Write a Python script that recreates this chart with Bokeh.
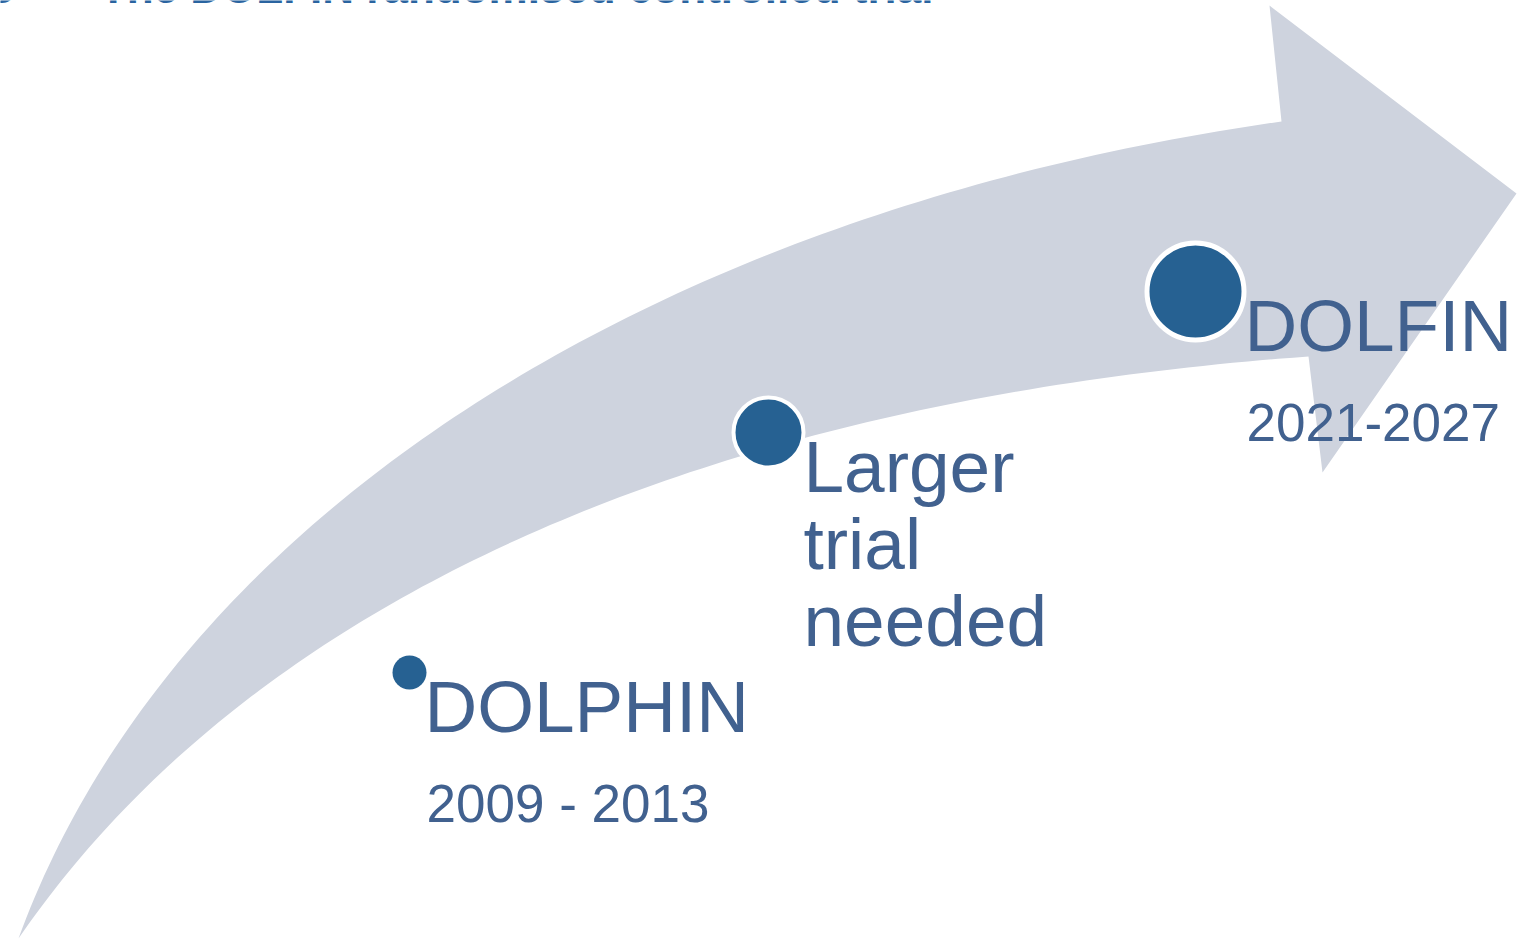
import numpy as np
from bokeh.plotting import figure
from bokeh.models import Range1d
from bokeh.core.properties import value
from bokeh.embed import file_html
from bokeh.resources import INLINE

# ---- content -------------------------------------------------------------
title_text = "Improving outcomes\u2002\u2009\u2013\u2002\u2009The DOLFIN randomised controlled trial"

milestone_names = ["DOLPHIN", "DOLFIN"]
milestone_periods = ["2009 - 2013", "2021-2027"]
middle_label_lines = ["Larger", "trial", "needed"]

# ---- geometry (screen-pixel coordinates, y downwards) ----------------------
dot_x = [409, 768, 1195]
dot_y = [672, 432, 291]
dot_r = [17, 35, 48.5]

name_x = [424, 1244]
name_base = [733, 352]
period_x = [426, 1246]
period_base = [823, 442]
mid_x = [803, 803, 803]
mid_base = [493, 570, 647]
title_x, title_base = 933, 3.5

# arrow body: cubic bezier control points of the two curved edges
upper_ctrl_x = [18, 170, 650, 1281]
upper_ctrl_y = [938, 520, 210, 121]
lower_ctrl_x = [1308, 700, 250, 18]
lower_ctrl_y = [356, 400, 600, 938]
# arrow head outline (top barb, tip, bottom barb)
head_x = [1269, 1516, 1322]
head_y = [5, 193, 472]

ARROW = "#CED3DE"
DOT = "#266192"
TEXT = "#41618F"
TITLE = "#2A64A0"

NAME_SIZE, PERIOD_SIZE, TITLE_SIZE = 73, 53, 44
BASE_SHIFT = 0.375  # renderer places text this fraction of its size below the anchor


def bezier(cx, cy, n=120):
    t = np.linspace(0, 1, n)
    b = [(1 - t) ** 3, 3 * (1 - t) ** 2 * t, 3 * (1 - t) * t ** 2, t ** 3]
    return sum(bi * c for bi, c in zip(b, cx)), sum(bi * c for bi, c in zip(b, cy))


def anchor(bases, size):
    return [b - BASE_SHIFT * size for b in bases]


ux, uy = bezier(upper_ctrl_x, upper_ctrl_y)
lx, ly = bezier(lower_ctrl_x, lower_ctrl_y)
arrow_x = list(ux) + head_x + list(lx)
arrow_y = list(uy) + head_y + list(ly)

W, H = 1521, 940
p = figure(width=W, height=H, output_backend="svg", toolbar_location=None,
           x_range=Range1d(0, W), y_range=Range1d(H, 0),
           x_axis_type=None, y_axis_type=None, min_border=0,
           background_fill_color="white", border_fill_color="white",
           outline_line_color=None)
p.grid.visible = False

p.patch(arrow_x, arrow_y, fill_color=ARROW, line_color=None)

p.circle(x=dot_x, y=dot_y, radius=dot_r, fill_color=DOT,
         line_color="white", line_width=[0, 4, 5])

font = value("Liberation Sans")
p.text(x=name_x, y=anchor(name_base, NAME_SIZE), text=milestone_names, text_font=font,
       text_font_size=f"{NAME_SIZE}px", text_color=TEXT, text_baseline="alphabetic",
       text_align="left")
p.text(x=period_x, y=anchor(period_base, PERIOD_SIZE), text=milestone_periods, text_font=font,
       text_font_size=f"{PERIOD_SIZE}px", text_color=TEXT, text_baseline="alphabetic",
       text_align="left")
p.text(x=mid_x, y=anchor(mid_base, NAME_SIZE), text=middle_label_lines, text_font=font,
       text_font_size=f"{NAME_SIZE}px", text_color=TEXT, text_baseline="alphabetic",
       text_align="left")

p.text(x=[title_x], y=anchor([title_base], TITLE_SIZE), text=[title_text], text_font=font,
       text_font_size=f"{TITLE_SIZE}px", text_font_style="bold", text_color=TITLE,
       text_baseline="alphabetic", text_align="right")

open("out.html", "w").write(file_html(p, INLINE))
